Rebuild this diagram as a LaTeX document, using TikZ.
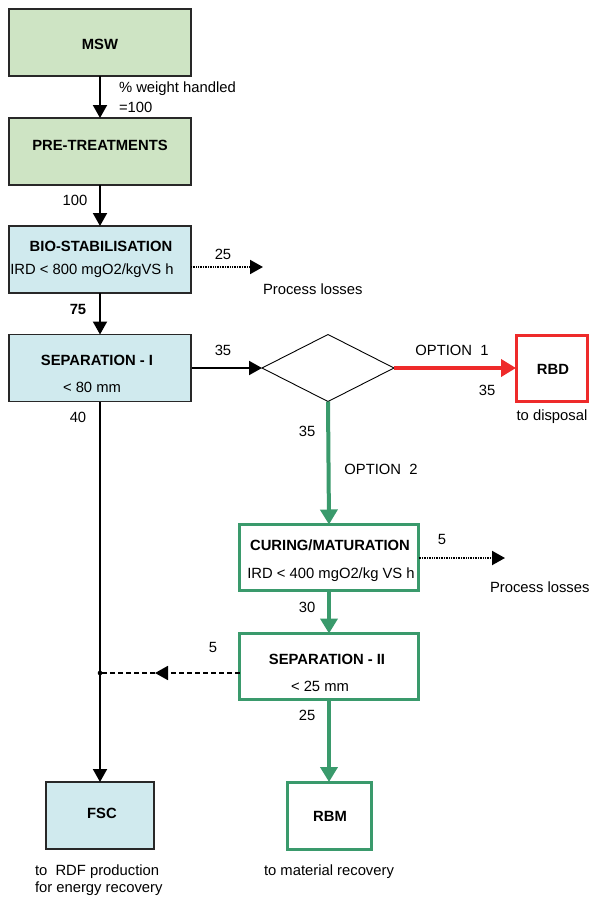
\documentclass[tikz,border=0pt]{standalone}
\usepackage{fontspec}
\setmainfont{Liberation Sans}
\usetikzlibrary{shapes.geometric,arrows.meta}
\definecolor{gfill}{RGB}{206,228,196}
\definecolor{bfill}{RGB}{208,234,238}
\definecolor{dgreen}{RGB}{58,154,108}
\definecolor{dred}{RGB}{238,42,42}
\definecolor{edge}{RGB}{40,40,40}
\begin{document}
\begin{tikzpicture}[x=1pt,y=-1pt,
  font=\fontsize{14.8}{17}\selectfont,
  base/.style={inner sep=0pt, outer sep=0pt},
  gbox/.style={base, draw=edge, line width=1.4pt, fill=gfill, minimum width=182pt, minimum height=67pt},
  bbox/.style={base, draw=edge, line width=1.4pt, fill=bfill, minimum width=182pt, minimum height=67pt},
  gnbox/.style={base, draw=dgreen, line width=3pt, fill=white, minimum width=179pt, minimum height=66pt},
  rbox/.style={base, draw=dred, line width=3pt, fill=white, minimum width=71pt, minimum height=66pt},
  lbl/.style={inner sep=0pt, outer sep=0pt},
  blk/.style={draw=black, line width=2pt, -{Triangle[width=14pt,length=13pt]}},
  grn/.style={draw=dgreen, line width=4pt, -{Triangle[width=17pt,length=15pt]}},
  rd/.style={draw=dred, line width=4pt, -{Triangle[width=17pt,length=15pt]}},
  dotarr/.style={draw=black, line width=2pt, dash pattern=on 1pt off 0.7pt, -{Triangle[width=14pt,length=13pt]}},
  dsh/.style={draw=black, line width=1.8pt, dash pattern=on 5pt off 3pt},
  frame/.style={draw=edge, line width=1.4pt},
]
\useasboundingbox (0,0) rectangle (592,897);

% boxes
\node[gbox] (msw) at (100,42.5) {};
\node[gbox] (pre) at (100,151.5) {};
\node[bbox] (bio) at (100,259.5) {};
\node[bbox] (sep1) at (100,368) {};
\node[base, draw=black, line width=0.9pt, shape=diamond, minimum width=132pt, minimum height=67pt] (dia) at (328,368) {};
\node[rbox] (rbd) at (551.5,368) {};
\node[gnbox] (cur) at (329,557.5) {};
\node[gnbox] (sep2) at (329,666.5) {};
\node[bbox, minimum width=108pt] (fsc) at (100,815.5) {};
\node[gnbox, minimum width=84pt, minimum height=67pt] (rbm) at (329,815.5) {};

% texts in boxes
\node[lbl] (tmsw) at (100,44) {\textbf{MSW}};
\node[lbl] (tpre) at (100,145) {\textbf{PRE-TREATMENTS}};
\node[lbl] (tbio) at (101,246) {\textbf{BIO-STABILISATION}};
\node[lbl] (sbio) at (92,271) {IRD < 800 mgO2/kgVS h};
\node[lbl] (tsep1) at (97,360) {\textbf{SEPARATION - I}};
\node[lbl] (ssep1) at (92,387) {< 80 mm};
\node[lbl] (trbd) at (553,369) {\textbf{RBD}};
\node[lbl] (tcur) at (330,545) {\textbf{CURING/MATURATION}};
\node[lbl] (scur) at (331,575) {IRD < 400 mgO2/kg VS h};
\node[lbl] (tsep2) at (327,659) {\textbf{SEPARATION - II}};
\node[lbl] (ssep2) at (320,686) {< 25 mm};
\node[lbl] (tfsc) at (102,813) {\textbf{FSC}};
\node[lbl] (trbm) at (330,816) {\textbf{RBM}};

% free ends
\coordinate (pl1) at (263,267);
\coordinate (pl2) at (505,558);
\coordinate (jn) at (100,673);
\coordinate (mid) at (155,673);

% connectors
\draw[blk] (msw) -- (pre);
\draw[blk] (pre) -- (bio);
\draw[blk] (bio) -- (sep1);
\draw[dotarr] (bio.east |- pl1) -- (pl1);
\draw[blk] (sep1.east) -- (dia.west);
\draw[rd] (dia.east) -- (rbd.west);
\draw[grn] (dia.south) -- (cur.north);
\draw[dotarr] (cur.east |- pl2) -- (pl2);
\draw[grn] (cur) -- (sep2);
\draw[grn] (sep2) -- (rbm);
\draw[blk] (sep1.south) -- (fsc.north);
\draw[dsh, -{Triangle[width=14pt,length=13pt]}] (sep2.west |- jn) -- (mid);
\draw[dsh] (mid) -- (jn);
\fill (jn) circle (2.3pt);
\draw[frame] (sep1.south west) rectangle (sep1.north east);

% labels
\node[lbl, anchor=west] (l1a) at (119,89) {\% weight handled};
\node[lbl, anchor=west] (l1b) at (119,107) {=100};
\node[lbl] (l2) at (75,200) {100};
\node[lbl] (l3) at (223,254) {25};
\node[lbl, anchor=west] (l4) at (263,289) {Process losses};
\node[lbl] (l5) at (78,309) {\textbf{75}};
\node[lbl] (l6) at (223,350) {35};
\node[lbl] (l7) at (452,350) {OPTION\ \ 1};
\node[lbl] (l8) at (487,390) {35};
\node[lbl] (l9) at (552,417) {to disposal};
\node[lbl] (l10) at (78,417) {40};
\node[lbl] (l11) at (307,431) {35};
\node[lbl] (l12) at (381,469) {OPTION\ \ 2};
\node[lbl] (l13) at (442,539) {5};
\node[lbl, anchor=west] (l14) at (490,587) {Process losses};
\node[lbl] (l15) at (307,607) {30};
\node[lbl] (l16) at (213,647) {5};
\node[lbl] (l17) at (307,715) {25};
\node[lbl, anchor=west] (l18) at (35,872) {to\ \ RDF production};
\node[lbl, anchor=west] (l19) at (35,889) {for energy recovery};
\node[lbl] (l20) at (329,872) {to material recovery};
\end{tikzpicture}
\end{document}
